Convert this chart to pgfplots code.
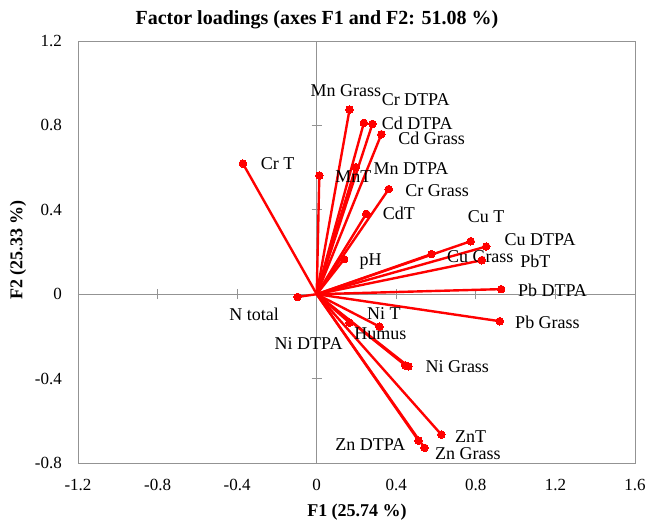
\documentclass[border=0pt]{standalone}
\usepackage{pgfplots}
\pgfplotsset{compat=1.18}
\usepackage{fontspec}
\setmainfont{Liberation Serif}
\newcommand{\lab}{\fontsize{18}{18}\selectfont}
\begin{document}
\begin{tikzpicture}
\begin{axis}[
  at={(0,0)}, anchor=south west,
  scale only axis, width=557pt, height=422pt,
  xmin=-1.2, xmax=1.6, ymin=-0.8, ymax=1.2,
  axis line style={draw=gray!85, line width=0.8pt},
  xtick={-1.2,-0.8,-0.4,0,0.4,0.8,1.2,1.6},
  xticklabels={-1.2,-0.8,-0.4,0,0.4,0.8,1.2,1.6},
  ytick={-0.8,-0.4,0,0.4,0.8,1.2},
  yticklabels={-0.8,-0.4,0,0.4,0.8,1.2},
  major tick length=0pt,
  tick label style={font=\fontsize{17}{17}\selectfont, inner sep=0pt},
  xticklabel style={anchor=center, yshift=-22pt},
  yticklabel style={anchor=east, xshift=-16pt},
  clip=false,
  ld/.style={red, line width=2.4pt, mark=*, mark indices={2}, mark size=3.8pt, mark options={fill=red, draw=red, line width=0pt}},
]
% zero lines with crossing ticks
\draw[gray!85, line width=0.8pt] (axis cs:-1.2,0) -- (axis cs:1.6,0);
\draw[gray!85, line width=0.8pt] (axis cs:0,-0.8) -- (axis cs:0,1.2);
\pgfplotsinvokeforeach{-1.2,-0.8,-0.4,0.4,0.8,1.2}{
  \draw[gray!85, line width=0.8pt] ([yshift=-5pt]axis cs:#1,0) -- ([yshift=5pt]axis cs:#1,0);
}
\pgfplotsinvokeforeach{-0.4,0.4,0.8}{
  \draw[gray!85, line width=0.8pt] ([xshift=-5pt]axis cs:0,#1) -- ([xshift=5pt]axis cs:0,#1);
}
% loadings
\addplot[ld] coordinates {(0,0) (0.165,0.875)}; % Mn Grass
\addplot[ld] coordinates {(0,0) (0.237,0.812)}; % Cr DTPA
\addplot[ld] coordinates {(0,0) (0.280,0.807)}; % Cd DTPA
\addplot[ld] coordinates {(0,0) (0.325,0.758)}; % Cd Grass
\addplot[ld] coordinates {(0,0) (0.196,0.602)}; % Mn DTPA
\addplot[ld] coordinates {(0,0) (0.013,0.562)}; % MnT
\addplot[ld] coordinates {(0,0) (-0.371,0.619)}; % Cr T
\addplot[ld] coordinates {(0,0) (0.362,0.498)}; % Cr Grass
\addplot[ld] coordinates {(0,0) (0.249,0.381)}; % CdT
\addplot[ld] coordinates {(0,0) (0.138,0.166)}; % pH
\addplot[ld] coordinates {(0,0) (0.774,0.251)}; % Cu T
\addplot[ld] coordinates {(0,0) (0.852,0.226)}; % Cu DTPA
\addplot[ld] coordinates {(0,0) (0.577,0.190)}; % Cu Grass
\addplot[ld] coordinates {(0,0) (0.830,0.161)}; % PbT
\addplot[ld] coordinates {(0,0) (0.927,0.024)}; % Pb DTPA
\addplot[ld] coordinates {(0,0) (0.920,-0.128)}; % Pb Grass
\addplot[ld] coordinates {(0,0) (-0.096,-0.013)}; % N total
\addplot[ld] coordinates {(0,0) (0.165,-0.135)}; % Ni DTPA
\addplot[ld] coordinates {(0,0) (0.316,-0.154)}; % Humus
\addplot[ld] coordinates {(0,0) (0.445,-0.337)}; % Ni T
\addplot[ld] coordinates {(0,0) (0.461,-0.342)}; % Ni Grass
\addplot[ld] coordinates {(0,0) (0.626,-0.665)}; % ZnT
\addplot[ld] coordinates {(0,0) (0.512,-0.694)}; % Zn DTPA
\addplot[ld] coordinates {(0,0) (0.542,-0.728)}; % Zn Grass
% labels
\begin{scope}[every node/.style={anchor=west, inner sep=0pt, font=\lab}]
\node at (axis cs:-0.032,0.963) {Mn Grass};
\node at (axis cs:0.326,0.921) {Cr DTPA};
\node at (axis cs:0.326,0.810) {Cd DTPA};
\node at (axis cs:0.410,0.738) {Cd Grass};
\node at (axis cs:0.285,0.595) {Mn DTPA};
\node at (axis cs:0.093,0.558) {MnT};
\node at (axis cs:-0.282,0.618) {Cr T};
\node at (axis cs:0.445,0.491) {Cr Grass};
\node at (axis cs:0.331,0.381) {CdT};
\node at (axis cs:0.215,0.155) {pH};
\node at (axis cs:0.759,0.368) {Cu T};
\node at (axis cs:0.944,0.261) {Cu DTPA};
\node at (axis cs:0.654,0.179) {Cu Grass};
\node at (axis cs:1.023,0.158) {PbT};
\node at (axis cs:1.011,0.017) {Pb DTPA};
\node at (axis cs:0.997,-0.135) {Pb Grass};
\node at (axis cs:-0.440,-0.094) {N total};
\node at (axis cs:-0.212,-0.235) {Ni DTPA};
\node at (axis cs:0.188,-0.187) {Humus};
\node at (axis cs:0.252,-0.094) {Ni T};
\node at (axis cs:0.546,-0.344) {Ni Grass};
\node at (axis cs:0.695,-0.674) {ZnT};
\node at (axis cs:0.093,-0.714) {Zn DTPA};
\node at (axis cs:0.594,-0.757) {Zn Grass};
\end{scope}
\end{axis}
\node[font=\fontsize{20}{20}\selectfont\bfseries] at (239pt,443pt) {Factor loadings (axes F1 and F2: 51.08 \%)};
\node[font=\fontsize{18}{18}\selectfont\bfseries] at (279pt,-49pt) {F1 (25.74 \%)};
\node[font=\fontsize{18}{18}\selectfont\bfseries, rotate=90] at (-60pt,213pt) {F2 (25.33 \%)};
\pgfresetboundingbox
\path[use as bounding box] (-78pt,-60pt) rectangle (572pt,463pt);
\end{tikzpicture}
\end{document}
